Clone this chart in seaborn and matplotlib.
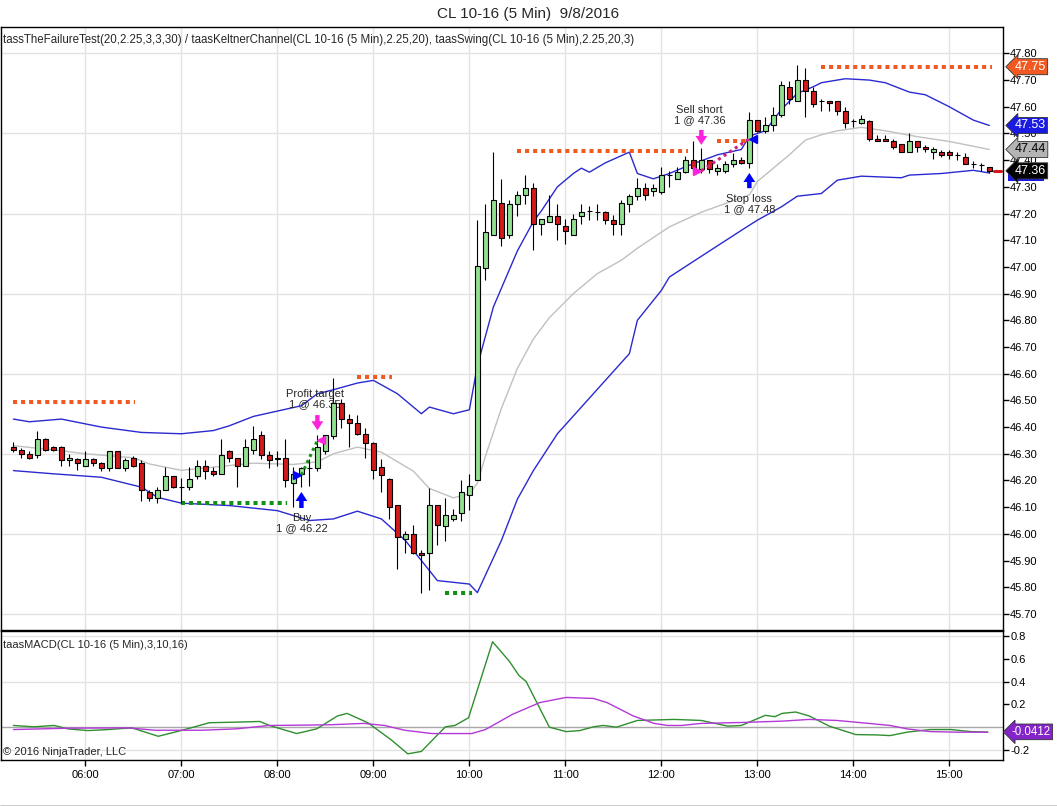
import matplotlib
matplotlib.use("Agg")
import matplotlib.pyplot as plt
import matplotlib.patches as mpatches
import matplotlib.transforms as mtransforms
import numpy as np
import seaborn as sns

sns.set_theme(style="white")
plt.rcParams['font.family'] = ['Liberation Sans', 'DejaVu Sans']

# bar index 0 = 05:15, one bar per 5 minutes
opens = [46.325, 46.315, 46.30, 46.295, 46.355, 46.325, 46.325, 46.275, 46.28, 46.255,
         46.28, 46.265, 46.245, 46.31, 46.245, 46.285, 46.265, 46.155, 46.135, 46.165,
         46.215, 46.175, 46.175, 46.215, 46.255, 46.235, 46.225, 46.31, 46.285, 46.255,
         46.315, 46.37, 46.295, 46.28, 46.285, 46.19, 46.225, 46.245, 46.245, 46.31,
         46.365, 46.49, 46.43, 46.415, 46.375, 46.34, 46.25, 46.205, 46.11, 45.98,
         46.00, 45.93, 45.93, 46.11, 46.03, 46.055, 46.08, 46.145, 46.20, 46.995,
         47.12, 47.24, 47.12, 47.235, 47.27, 47.295, 47.16, 47.17, 47.19, 47.155,
         47.12, 47.19, 47.21, 47.205, 47.205, 47.175, 47.16, 47.235, 47.265, 47.295,
         47.285, 47.28, 47.345, 47.33, 47.355, 47.40, 47.365, 47.40, 47.36, 47.36,
         47.385, 47.40, 47.39, 47.55, 47.51, 47.53, 47.57, 47.675, 47.62, 47.70,
         47.66, 47.62, 47.62, 47.62, 47.585, 47.545, 47.54, 47.545, 47.48, 47.48,
         47.47, 47.46, 47.43, 47.47, 47.45, 47.43, 47.43, 47.43, 47.42, 47.41,
         47.385, 47.38, 47.375]
highs = [46.345, 46.32, 46.31, 46.385, 46.36, 46.33, 46.33, 46.30, 46.285, 46.31,
         46.285, 46.27, 46.31, 46.31, 46.285, 46.29, 46.275, 46.165, 46.175, 46.25,
         46.215, 46.21, 46.25, 46.275, 46.275, 46.25, 46.355, 46.315, 46.285, 46.355,
         46.405, 46.385, 46.31, 46.31, 46.355, 46.25, 46.25, 46.28, 46.37, 46.37,
         46.585, 46.505, 46.45, 46.445, 46.395, 46.345, 46.28, 46.21, 46.11, 46.01,
         46.035, 45.94, 46.17, 46.11, 46.135, 46.095, 46.20, 46.225, 47.175, 47.235,
         47.43, 47.33, 47.25, 47.285, 47.345, 47.315, 47.18, 47.27, 47.235, 47.18,
         47.20, 47.235, 47.23, 47.235, 47.21, 47.195, 47.25, 47.275, 47.335, 47.315,
         47.31, 47.375, 47.36, 47.375, 47.415, 47.47, 47.445, 47.40, 47.385, 47.395,
         47.425, 47.41, 47.58, 47.55, 47.56, 47.60, 47.695, 47.695, 47.755, 47.745,
         47.675, 47.63, 47.62, 47.62, 47.60, 47.555, 47.57, 47.55, 47.495, 47.495,
         47.48, 47.46, 47.50, 47.47, 47.455, 47.45, 47.438, 47.438, 47.43, 47.425,
         47.395, 47.39, 47.375]
lows = [46.305, 46.285, 46.28, 46.285, 46.31, 46.31, 46.255, 46.255, 46.24, 46.255,
        46.255, 46.235, 46.235, 46.245, 46.235, 46.25, 46.125, 46.125, 46.115, 46.165,
        46.17, 46.115, 46.165, 46.205, 46.205, 46.215, 46.225, 46.27, 46.175, 46.255,
        46.30, 46.28, 46.245, 46.255, 46.175, 46.10, 46.175, 46.18, 46.235, 46.30,
        46.355, 46.395, 46.325, 46.37, 46.285, 46.205, 46.155, 46.055, 45.87, 45.93,
        45.925, 45.78, 45.79, 45.96, 45.975, 46.05, 46.05, 46.09, 46.20, 46.95,
        47.12, 47.08, 47.11, 47.19, 47.235, 47.065, 47.12, 47.17, 47.10, 47.085,
        47.12, 47.16, 47.175, 47.175, 47.16, 47.12, 47.12, 47.205, 47.25, 47.25,
        47.265, 47.275, 47.30, 47.33, 47.35, 47.35, 47.35, 47.35, 47.345, 47.35,
        47.375, 47.385, 47.37, 47.505, 47.50, 47.51, 47.56, 47.61, 47.62, 47.56,
        47.60, 47.585, 47.585, 47.57, 47.52, 47.525, 47.535, 47.47, 47.47, 47.47,
        47.44, 47.43, 47.43, 47.43, 47.43, 47.405, 47.41, 47.405, 47.40, 47.385,
        47.37, 47.36, 47.35]
closes = [46.315, 46.30, 46.285, 46.355, 46.315, 46.315, 46.275, 46.285, 46.265, 46.28,
          46.265, 46.245, 46.31, 46.245, 46.275, 46.255, 46.165, 46.135, 46.165, 46.215,
          46.175, 46.175, 46.205, 46.255, 46.235, 46.225, 46.295, 46.285, 46.255, 46.325,
          46.355, 46.295, 46.275, 46.285, 46.20, 46.225, 46.245, 46.245, 46.325, 46.37,
          46.49, 46.43, 46.415, 46.375, 46.34, 46.24, 46.22, 46.10, 45.99, 46.00,
          45.93, 45.92, 46.11, 46.035, 46.07, 46.07, 46.155, 46.18, 47.005, 47.13,
          47.25, 47.11, 47.235, 47.27, 47.295, 47.16, 47.18, 47.19, 47.16, 47.135,
          47.18, 47.205, 47.21, 47.205, 47.175, 47.16, 47.24, 47.265, 47.295, 47.27,
          47.295, 47.345, 47.345, 47.355, 47.40, 47.37, 47.40, 47.365, 47.37, 47.385,
          47.40, 47.39, 47.55, 47.51, 47.53, 47.57, 47.68, 47.63, 47.70, 47.66,
          47.61, 47.62, 47.615, 47.585, 47.54, 47.545, 47.555, 47.48, 47.47, 47.47,
          47.45, 47.43, 47.47, 47.45, 47.44, 47.44, 47.42, 47.42, 47.42, 47.385,
          47.385, 47.38, 47.36]

# Keltner channel (bar index, price)
upper_x = [0, 2, 6, 11, 16, 21, 25, 27, 30, 33, 36, 38, 40, 43, 45, 48, 51, 52, 55, 57,
           58, 60, 62, 63, 65, 66, 68, 70, 71, 72, 74, 77, 78, 80, 82, 84, 88, 91, 92, 94,
           96, 98, 100, 101, 104, 107, 109, 112, 114, 117, 120, 122]
upper_y = [46.43, 46.42, 46.43, 46.40, 46.38, 46.375, 46.387, 46.405, 46.44, 46.46, 46.48,
           46.525, 46.54, 46.565, 46.575, 46.525, 46.45, 46.475, 46.45, 46.465,
           46.63, 46.85, 46.99, 47.06, 47.17, 47.21, 47.30, 47.35, 47.37, 47.355, 47.39,
           47.43, 47.35, 47.33, 47.35, 47.375, 47.42, 47.44, 47.49, 47.51,
           47.59, 47.65, 47.675, 47.69, 47.705, 47.70, 47.69, 47.655, 47.645, 47.60,
           47.55, 47.53]
mid_x = [0, 5, 9, 15, 17, 21, 25, 30, 35, 38, 40, 43, 46, 50, 52, 55, 57, 58, 59, 61,
         63, 65, 67, 70, 73, 76, 78, 82, 86, 92, 93, 97, 99, 101, 103, 106, 109, 113, 117, 122]
mid_y = [46.33, 46.315, 46.30, 46.285, 46.262, 46.238, 46.25, 46.265, 46.26, 46.27,
         46.30, 46.325, 46.306, 46.235, 46.17, 46.135, 46.15, 46.19, 46.29, 46.47,
         46.62, 46.73, 46.81, 46.90, 46.975, 47.025, 47.07, 47.15, 47.205, 47.27,
         47.32, 47.42, 47.475, 47.495, 47.51, 47.523, 47.51, 47.488, 47.47, 47.44]
lower_x = [0, 5, 11, 16, 18, 21, 27, 33, 37, 40, 43, 46, 49, 51, 53, 57, 58, 61, 63, 65,
           68, 71, 74, 77, 78, 81, 82, 86, 91, 93, 96, 98, 101, 103, 106, 111, 112, 116,
           120, 122]
lower_y = [46.237, 46.225, 46.212, 46.175, 46.137, 46.115, 46.106, 46.087, 46.05, 46.056,
           46.085, 46.056, 45.975, 45.90, 45.825, 45.812, 45.78, 45.975, 46.13, 46.237,
           46.375, 46.475, 46.575, 46.675, 46.80, 46.912, 46.962, 47.04, 47.137, 47.175,
           47.225, 47.265, 47.275, 47.325, 47.34, 47.334, 47.344, 47.35, 47.362, 47.352]

# swing highs / lows (start bar, end bar, level)
swing_hi_start = [0, 42.9, 63.0, 87.9, 100.9]
swing_hi_end = [15.2, 47.3, 84.3, 91.7, 122.3]
swing_hi_level = [46.495, 46.587, 47.435, 47.473, 47.75]
swing_lo_start = [21.0, 54.0]
swing_lo_end = [34.2, 57.3]
swing_lo_level = [46.117, 45.78]

# trades
entry_bar = [36, 86]
entry_price = [46.22, 47.36]
entry_label = ["Buy\n1 @ 46.22", "Sell short\n1 @ 47.36"]
exit_bar = [38, 92]
exit_price = [46.35, 47.48]
exit_label = ["Profit target\n1 @ 46.35", "Stop loss\n1 @ 47.48"]

# MACD panel (bar index, value)
macd_x = [0.0, 2.55, 5.1, 6.8, 9.3, 11.8, 14.8, 18.1, 21.1, 24.5, 27.8, 30.8, 32.0, 35.4,
          37.9, 40.5, 41.7, 44.3, 47.2, 49.3, 51.0, 54.0, 55.2, 56.9, 59.9, 62.0, 63.2,
          64.1, 67.0, 69.1, 70.8, 72.5, 73.7, 75.4, 78.0, 82.6, 86.0, 89.3, 91.0, 94.0,
          95.2, 96.1, 97.8, 99.5, 102.0, 105.3, 107.9, 109.6, 111.7, 114.6, 117.2, 119.7,
          121.8]
macd_y = [0.015, 0.003, 0.015, -0.015, -0.030, -0.021, -0.006, -0.080, -0.027, 0.039,
          0.044, 0.050, 0.015, -0.056, -0.015, 0.098, 0.121, 0.039, -0.110, -0.234,
          -0.213, 0.003, 0.015, 0.083, 0.750, 0.578, 0.453, 0.400, 0.0, -0.039, -0.030,
          0.003, 0.015, 0.0, 0.059, 0.068, 0.059, 0.009, 0.015, 0.104, 0.092, 0.121,
          0.133, 0.098, 0.009, -0.065, -0.068, -0.074, -0.044, -0.021, -0.021, -0.039,
          -0.044]
sig_x = [0.0, 6.8, 14.3, 17.7, 23.6, 27.8, 32.0, 36.3, 39.6, 43.8, 46.4, 48.9, 52.3,
         57.3, 59.0, 62.4, 65.8, 69.1, 72.5, 74.2, 77.5, 80.1, 81.8, 83.5, 86.0, 91.0,
         96.1, 99.5, 102.9, 105.3, 109.6, 111.7, 114.6, 118.0, 121.8]
sig_y = [-0.021, -0.009, -0.006, -0.027, -0.027, -0.015, 0.015, 0.018, 0.021, 0.033,
         0.015, -0.027, -0.056, -0.056, -0.021, 0.113, 0.216, 0.261, 0.252, 0.216,
         0.098, 0.033, 0.015, 0.015, 0.033, 0.041, 0.053, 0.068, 0.059, 0.044, 0.015,
         -0.015, -0.039, -0.044, -0.044]
macd_last = -0.0412

hour_bars = [9, 21, 33, 45, 57, 69, 81, 93, 105, 117]
hour_labels = ["06:00", "07:00", "08:00", "09:00", "10:00", "11:00", "12:00", "13:00",
               "14:00", "15:00"]

UP = '#90e090'
DOWN = '#d41a1a'
ORANGE = '#f05a22'
SWGREEN = '#139013'
BLUE = '#2a2ad0'
MAGENTA = '#ff22dd'
GRID = '#e3e3e3'

fig = plt.figure(figsize=(10.57, 8.06), dpi=100)
ax = fig.add_axes([0.001, 0.2184, 0.9482, 0.7485])
ax2 = fig.add_axes([0.001, 0.0571, 0.9482, 0.1600])

xlim = (-1.55, 123.75)
for a in (ax, ax2):
    a.set_xlim(*xlim)
    a.set_facecolor('white')
    for s in a.spines.values():
        s.set_color('black')
        s.set_linewidth(1)
    for hb in hour_bars:
        a.axvline(hb, color=GRID, lw=1, zorder=0)

# ---- price panel
ax.set_ylim(45.64, 47.90)
for lev in np.arange(45.70, 47.81, 0.30):
    ax.axhline(lev, color=GRID, lw=1, zorder=0)

sns.lineplot(x=mid_x, y=mid_y, ax=ax, color='#c0c0c0', lw=1, sort=False, estimator=None, zorder=1)
sns.lineplot(x=upper_x, y=upper_y, ax=ax, color=BLUE, lw=1, sort=False, estimator=None, zorder=1)
sns.lineplot(x=lower_x, y=lower_y, ax=ax, color=BLUE, lw=1, sort=False, estimator=None, zorder=1)

o = np.array(opens); h = np.array(highs); l = np.array(lows); c = np.array(closes)
idx = np.arange(len(o))
ax.vlines(idx, l, h, color='black', lw=0.8, zorder=3)
cols = np.where(c > o, UP, np.where(c < o, DOWN, 'black'))
ax.bar(idx, np.abs(c - o), bottom=np.minimum(o, c), width=0.62, color=cols,
       edgecolor='black', linewidth=0.8, zorder=4)

for s, e, v in zip(swing_hi_start, swing_hi_end, swing_hi_level):
    ax.plot([s, e], [v, v], color=ORANGE, lw=2.9, ls=(0, (1, 1)), zorder=2)
for s, e, v in zip(swing_lo_start, swing_lo_end, swing_lo_level):
    ax.plot([s, e], [v, v], color=SWGREEN, lw=2.9, ls=(0, (1, 1)), zorder=2)
ax.plot([122.6, 123.4], [closes[-1], closes[-1]], color=DOWN, lw=2.2, zorder=2)

# trades
ax.plot([entry_bar[0], exit_bar[0]], [entry_price[0], exit_price[0]], color=SWGREEN,
        lw=2.2, ls=(0, (1, 1.2)), zorder=5)
ax.plot([entry_bar[1], exit_bar[1]], [entry_price[1], exit_price[1]], color='#d0207a',
        lw=2.2, ls=(0, (1, 1.2)), zorder=5)
ax.plot(entry_bar[0] - 0.5, entry_price[0], marker='>', ms=6, color='blue', zorder=6)
ax.plot(exit_bar[0] + 0.5, exit_price[0], marker='<', ms=6, color=MAGENTA, zorder=6)
ax.plot(entry_bar[1] - 0.5, entry_price[1], marker='>', ms=6, color=MAGENTA, zorder=6)
ax.plot(exit_bar[1] + 0.5, exit_price[1], marker='<', ms=6, color='blue', zorder=6)


def arrow(b, tip, tail, col):
    ax.annotate('', xy=(b, tip), xytext=(b, tail), zorder=6,
                arrowprops=dict(width=3.2, headwidth=8.5, headlength=6.5, shrink=0,
                                fc=col, ec=col, lw=0))


# long entry: blue up arrow below the bar
b = entry_bar[0]
arrow(b, lows[b] - 0.018, lows[b] - 0.078, 'blue')
ax.text(b, lows[b] - 0.097, entry_label[0], ha='center', va='top', fontsize=8, linespacing=1.05)
# profit target: magenta down arrow above the bar
b = exit_bar[0]
arrow(b, highs[b] + 0.018, highs[b] + 0.075, MAGENTA)
ax.text(b - 0.3, highs[b] + 0.097, exit_label[0], ha='center', va='bottom', fontsize=8, linespacing=1.05)
# short entry
b = entry_bar[1]
arrow(b, highs[b] + 0.012, highs[b] + 0.068, MAGENTA)
ax.text(b - 0.2, highs[b] + 0.087, entry_label[1], ha='center', va='bottom', fontsize=8, linespacing=1.05)
# stop loss
b = exit_bar[1]
arrow(b, lows[b] - 0.018, lows[b] - 0.075, 'blue')
ax.text(b, lows[b] - 0.097, exit_label[1], ha='center', va='top', fontsize=8, linespacing=1.05)

ax.yaxis.tick_right()
ax.set_yticks(np.round(np.arange(45.70, 47.81, 0.10), 2))
ax.set_yticklabels([f"{v:.2f}" for v in np.arange(45.70, 47.81, 0.10)])
ax.tick_params(axis='y', right=True, direction='out', length=4, width=1, pad=1,
               labelsize=8, colors='black')
ax.set_xticks([])
ax.set_xlabel(''); ax.set_ylabel('')


def tag(a, y, txt, fc, tc, size=9, off=8):
    tr = mtransforms.blended_transform_factory(a.transAxes, a.transData)
    a.annotate(txt, xy=(1.0, y), xycoords=tr, xytext=(off, 0), textcoords='offset points',
               ha='left', va='center', fontsize=size, color=tc, annotation_clip=False,
               bbox=dict(boxstyle='larrow,pad=0.16', fc=fc, ec='#333333', lw=0.6), zorder=10)


# lower band tag sits mostly hidden under the last-price tag
trb = mtransforms.blended_transform_factory(ax.transAxes, ax.transData)
ax.add_patch(mpatches.Rectangle((1.005, lower_y[-1] - 0.03), 0.036, 0.03, transform=trb,
                                fc='#1a1ae0', ec='none', clip_on=False, zorder=9))

tag(ax, swing_hi_level[-1], f"{swing_hi_level[-1]:.2f}", ORANGE, 'white')
tag(ax, upper_y[-1], f"{upper_y[-1]:.2f}", '#1a1ae0', 'white')
tag(ax, mid_y[-1], f"{mid_y[-1]:.2f}", '#b4b4b4', 'black')
tag(ax, closes[-1], f"{closes[-1]:.2f}", 'black', 'white')

# ---- MACD panel
ax2.set_ylim(-0.288, 0.844)
for lev in (0.8, 0.4, -0.2):
    ax2.axhline(lev, color=GRID, lw=1, zorder=0)
ax2.axhline(0, color='#a8a8a8', lw=1, zorder=1)
sns.lineplot(x=macd_x, y=macd_y, ax=ax2, color='#2f8f2f', lw=1, sort=False, estimator=None, zorder=2)
sns.lineplot(x=sig_x, y=sig_y, ax=ax2, color='#b438d8', lw=1, sort=False, estimator=None, zorder=3)
ax2.yaxis.tick_right()
ax2.set_yticks([-0.2, 0.2, 0.4, 0.6, 0.8])
ax2.set_yticklabels(['-0.2', '0.2', '0.4', '0.6', '0.8'])
ax2.tick_params(axis='y', right=True, direction='out', length=4, width=1, pad=1,
                labelsize=8, colors='black')
ax2.set_xticks(hour_bars)
ax2.set_xticklabels(hour_labels)
ax2.tick_params(axis='x', bottom=True, direction='out', length=4, width=1, pad=3,
                labelsize=8, colors='black')
ax2.set_xlabel(''); ax2.set_ylabel('')
tag(ax2, macd_last, f"{macd_last:.4f}", '#8424c8', 'white', size=8.3, off=6)

ax2.text(0.002, 0.93, "taasMACD(CL 10-16 (5 Min),3,10,16)", transform=ax2.transAxes,
         ha='left', va='top', fontsize=8)
ax2.text(0.002, 0.02, "\u00a9 2016 NinjaTrader, LLC", transform=ax2.transAxes,
         ha='left', va='bottom', fontsize=8)

fig.text(0.5, 1 - 14 / 806, "CL 10-16 (5 Min)  9/8/2016", ha='center', va='center', fontsize=11)
fig.text(3 / 1057, 1 - 40 / 806,
         "tassTheFailureTest(20,2.25,3,3,30) / taasKeltnerChannel(CL 10-16 (5 Min),2.25,20), "
         "taasSwing(CL 10-16 (5 Min),2.25,20,3)", ha='left', va='center', fontsize=8.3)
fig.add_artist(plt.Line2D([0, 1], [0.5 / 806, 0.5 / 806], color='black', lw=1))

fig.savefig('out.png', dpi=100)
